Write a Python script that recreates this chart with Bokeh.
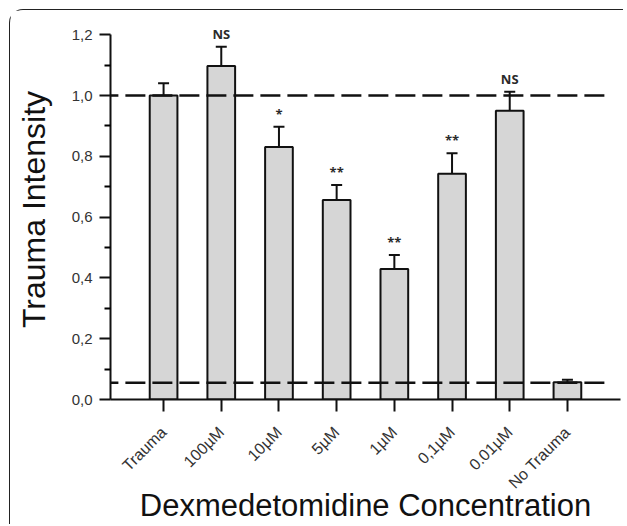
from bokeh.plotting import figure
from bokeh.models import (ColumnDataSource, Range1d, FixedTicker, Whisker, TeeHead,
                          LabelSet, Arrow, CustomJSTickFormatter)
from bokeh.core.properties import value
from bokeh.embed import file_html
from bokeh.resources import INLINE
import math

# ---- data ----
categories = ["Trauma", "100µM", "10µM", "5µM", "1µM", "0,1µM", "0.01µM", "No Trauma"]
means = [1.00, 1.097, 0.831, 0.656, 0.429, 0.743, 0.950, 0.057]
errors = [0.040, 0.063, 0.066, 0.050, 0.046, 0.067, 0.062, 0.008]
significance = ["", "NS", "*", "**", "**", "**", "NS", ""]
reference_levels = [1.0, 0.055]
y_ticks = [0.0, 0.2, 0.4, 0.6, 0.8, 1.0, 1.2]
x_title = "Dexmedetomidine Concentration"
y_title = "Trauma Intensity"

idx = list(range(len(categories)))
upper = [m + e for m, e in zip(means, errors)]

src = ColumnDataSource(dict(x=idx, mean=means, upper=upper, sig=significance))

p = figure(width=614, height=515, x_range=Range1d(-0.92, 7.92), y_range=Range1d(0, 1.25),
           output_backend="svg", toolbar_location=None,
           min_border_left=100, min_border_right=4, min_border_top=9, min_border_bottom=100)
p.styles = {"margin-left": "9px", "margin-top": "9px",
            "border-left": "1.5px solid #222", "border-top": "1.5px solid #222",
            "border-top-left-radius": "14px"}
p.outline_line_color = None
p.grid.visible = False
p.background_fill_color = "white"
p.border_fill_color = "white"

# bars
p.vbar(x="x", top="mean", bottom=0, width=0.48, source=src,
       fill_color="#d6d6d6", line_color="#111111", line_width=2)

# error bars (upper only)
p.add_layout(Whisker(base="x", lower="mean", upper="upper", source=src,
                     line_color="#111111", line_width=2,
                     upper_head=TeeHead(size=11, line_color="#111111", line_width=2),
                     lower_head=None, level="overlay"))

# dashed reference lines
for lv in reference_levels:
    p.add_layout(Arrow(end=None, x_start=-1.13, x_end=7.70, y_start=lv, y_end=lv,
                       line_color="#111111", line_width=2.5, line_dash="20 7"))

# significance labels
p.add_layout(LabelSet(x="x", y="upper", text="sig", source=src, text_align="center",
                      text_baseline="middle", y_offset=13, text_font=value("Open Sans"),
                      text_font_style="bold", text_font_size="13px",
                      text_color=value("#2a2a2a")))

# axes
xa = p.xaxis[0]
xa.ticker = FixedTicker(ticks=idx)
xa.major_label_overrides = {i: c for i, c in zip(idx, categories)}
xa.major_label_orientation = math.pi / 4
xa.major_label_text_font = "Liberation Sans"
xa.major_label_text_font_size = "16px"
xa.major_label_text_color = "#333333"
xa.major_label_standoff = 18
xa.minor_tick_line_color = None
xa.major_tick_in = 0
xa.major_tick_out = 12
xa.axis_label = x_title
xa.axis_label_text_font = "Liberation Sans"
xa.axis_label_text_font_size = "31px"
xa.axis_label_text_font_style = "normal"
xa.axis_label_text_color = "#111111"
xa.axis_label_text_line_height = 0.6
xa.axis_label_standoff = -13

ya = p.yaxis[0]
ya.ticker = FixedTicker(ticks=y_ticks, minor_ticks=[0.1, 0.3, 0.5, 0.7, 0.9, 1.1])
ya.bounds = (0, 1.2)
ya.formatter = CustomJSTickFormatter(code="return tick.toFixed(1).replace('.', ',');")
ya.major_label_text_font = "Liberation Sans"
ya.major_label_text_font_size = "15px"
ya.major_label_text_color = "#333333"
ya.major_tick_in = 0
ya.major_tick_out = 11
ya.minor_tick_in = 0
ya.minor_tick_out = 6
ya.major_label_standoff = 7
ya.axis_label = y_title
ya.axis_label_text_font = "Liberation Sans"
ya.axis_label_text_font_size = "32px"
ya.axis_label_text_font_style = "normal"
ya.axis_label_text_color = "#111111"
ya.axis_label_standoff = 17

for ax in (xa, ya):
    ax.axis_line_width = 2
    ax.axis_line_color = "#111111"
    ax.major_tick_line_width = 2
    ax.major_tick_line_color = "#111111"
    ax.minor_tick_line_width = 2

open("out.html", "w").write(file_html(p, INLINE))
